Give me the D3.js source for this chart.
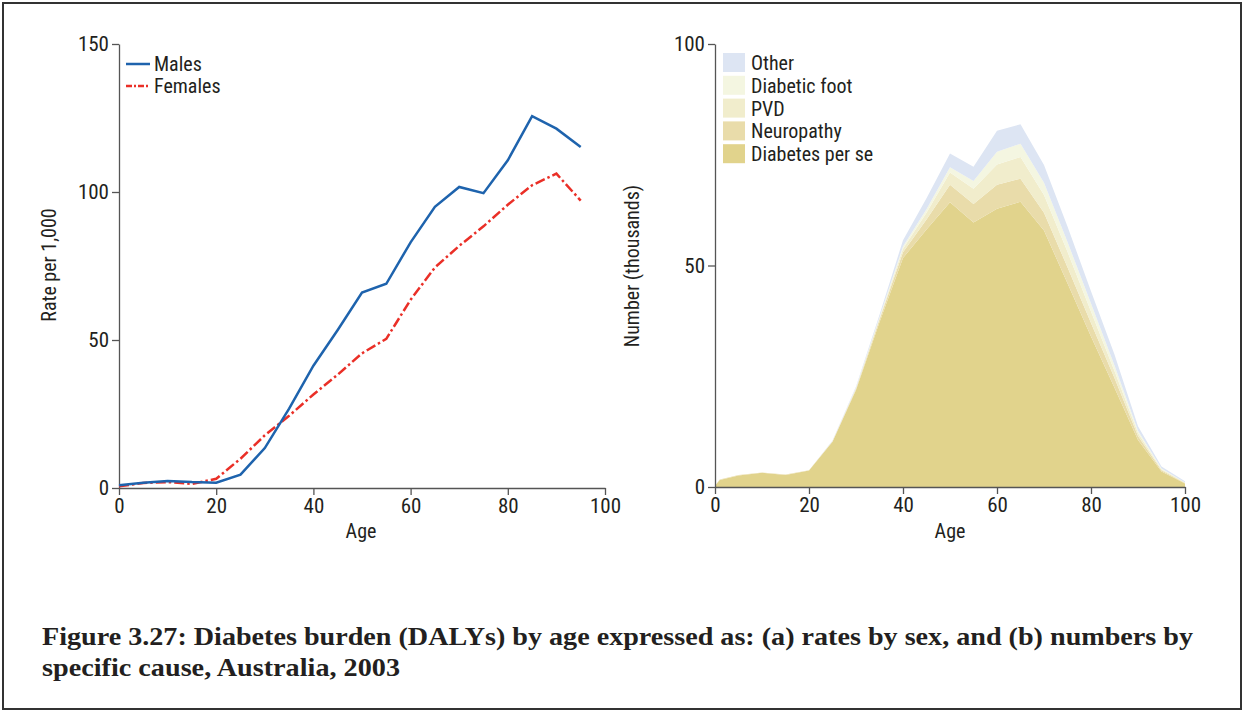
<!DOCTYPE html>
<html>
<head>
<meta charset="utf-8">
<script src="https://cdn.jsdelivr.net/npm/d3@7"></script>
<style>
  body { margin: 0; background: #fff; }
  svg text { fill: #231f20; }
  .tick text, .lab { font-family: "Liberation Sans Narrow", "Arial Narrow", "Roboto Condensed", sans-serif; font-size: 20px; }
  .tick text { font-size: 21px; }
  .caption { font-family: "Liberation Serif", "DejaVu Serif", serif; font-weight: bold; font-size: 26px; }
</style>
</head>
<body>
<div id="chart"></div>
<script>
// Data
var ageRates = [0, 5, 10, 15, 20, 25, 30, 35, 40, 45, 50, 55, 60, 65, 70, 75, 80, 85, 90, 95];
var males   = [0.9, 1.8, 2.4, 2.0, 1.8, 4.5, 13.5, 26.8, 41.3, 53.4, 66.0, 69.0, 83.0, 95.0, 101.7, 99.6, 110.7, 125.6, 121.4, 115.2];
var females = [0.6, 1.7, 2.0, 1.4, 3.1, 9.9, 17.8, 24.4, 31.6, 38.3, 45.5, 50.4, 63.6, 74.5, 81.8, 88.4, 95.7, 102.3, 106.2, 97.1];

var ageNum = [0, 1, 5, 10, 15, 20, 25, 30, 35, 40, 45, 50, 55, 60, 65, 70, 75, 80, 85, 90, 95, 100];
var diabetesPerSe = [0.3, 1.6, 2.6, 3.2, 2.7, 3.7, 10.2, 21.9, 37.2, 51.7, 58.1, 64.3, 59.7, 62.8, 64.4, 57.9, 46.0, 34.0, 22.4, 10.6, 3.5, 0.8];
var neuropathy    = [0.0, 0.1, 0.1, 0.1, 0.1, 0.1, 0.1, 0.3, 0.6, 1.3, 2.3, 3.9, 4.2, 5.4, 5.2, 4.0, 3.6, 3.0, 2.2, 0.9, 0.3, 0.1];
var pvd           = [0.0, 0.0, 0.0, 0.0, 0.0, 0.0, 0.1, 0.1, 0.3, 0.8, 1.5, 2.8, 3.4, 4.6, 4.9, 4.0, 3.5, 2.6, 1.6, 0.7, 0.2, 0.1];
var diabeticFoot  = [0.0, 0.0, 0.0, 0.0, 0.0, 0.0, 0.0, 0.1, 0.2, 0.5, 0.8, 1.2, 1.8, 2.9, 3.0, 2.8, 2.2, 1.8, 1.2, 0.5, 0.2, 0.0];
var other         = [0.0, 0.0, 0.0, 0.0, 0.0, 0.0, 0.1, 0.3, 0.6, 1.4, 2.5, 3.1, 3.2, 4.7, 4.4, 4.0, 3.5, 2.8, 2.5, 1.0, 0.4, 0.3];

var causeNames = ["Diabetes per se", "Neuropathy", "PVD", "Diabetic foot", "Other"];
var causeColors = ["#e1d38c", "#e9dcaa", "#f1edcc", "#f4f6e1", "#dde5f3"];

var rateTicks = [0, 50, 100, 150];
var numTicks = [0, 50, 100];
var ageTicks = [0, 20, 40, 60, 80, 100];

var svgWidth = 1244, svgHeight = 711;
var svg = d3.select("#chart").append("svg")
  .attr("width", svgWidth)
  .attr("height", svgHeight);

// frame
svg.append("rect")
  .attr("x", 3).attr("y", 3)
  .attr("width", 1238).attr("height", 706)
  .attr("fill", "none").attr("stroke", "#333").attr("stroke-width", 2);

function styleAxis(g) {
  g.selectAll("path.domain").attr("stroke", "#555").attr("stroke-width", 1.3);
  g.selectAll(".tick line").attr("stroke", "#555").attr("stroke-width", 1.3);
  g.selectAll(".tick text").attr("fill", "#231f20");
}

// ---------- (a) rates by sex ----------
var xA = d3.scaleLinear().domain([0, 100]).range([119, 605]);
var yA = d3.scaleLinear().domain([0, 150]).range([488, 44]);

var gA = svg.append("g");
gA.append("g")
  .attr("transform", "translate(0,488)")
  .call(d3.axisBottom(xA).tickValues(ageTicks).tickSize(7).tickSizeOuter(0).tickPadding(3))
  .call(styleAxis);
gA.append("g")
  .attr("transform", "translate(119,0)")
  .call(d3.axisLeft(yA).tickValues(rateTicks).tickSize(7).tickSizeOuter(0).tickPadding(3))
  .call(styleAxis);

var lineA = function(vals) {
  return d3.line()
    .x(function(d, i) { return xA(ageRates[i]); })
    .y(function(d) { return yA(d); })(vals);
};

gA.append("path")
  .attr("d", lineA(females))
  .attr("fill", "none").attr("stroke", "#ea2f27").attr("stroke-width", 2.5)
  .attr("stroke-dasharray", "10,3,2.5,3");
gA.append("path")
  .attr("d", lineA(males))
  .attr("fill", "none").attr("stroke", "#1e63ad").attr("stroke-width", 2.5);

// legend a
var legA = [{name: "Males", color: "#1e63ad", dash: null}, {name: "Females", color: "#ea2f27", dash: "6,2,2,2"}];
legA.forEach(function(d, i) {
  var yy = 64 + i * 22;
  gA.append("line").attr("x1", 126).attr("x2", 150).attr("y1", yy).attr("y2", yy)
    .attr("stroke", d.color).attr("stroke-width", 2.5)
    .attr("stroke-dasharray", d.dash);
  gA.append("text").attr("class", "lab").attr("x", 154).attr("y", yy + 7).text(d.name);
});

gA.append("text").attr("class", "lab")
  .attr("transform", "translate(56,265) rotate(-90)")
  .attr("text-anchor", "middle")
  .text("Rate per 1,000");
gA.append("text").attr("class", "lab")
  .attr("x", 361).attr("y", 538).attr("text-anchor", "middle").text("Age");

// ---------- (b) numbers by cause ----------
var xB = d3.scaleLinear().domain([0, 100]).range([715, 1185]);
var yB = d3.scaleLinear().domain([0, 100]).range([487, 44]);

var seriesVals = [diabetesPerSe, neuropathy, pvd, diabeticFoot, other];
var table = ageNum.map(function(a, i) {
  var row = {age: a};
  causeNames.forEach(function(n, k) { row[n] = seriesVals[k][i]; });
  return row;
});
var stacked = d3.stack().keys(causeNames)(table);

var area = d3.area()
  .x(function(d) { return xB(d.data.age); })
  .y0(function(d) { return yB(d[0]); })
  .y1(function(d) { return yB(d[1]); });

var gB = svg.append("g");
gB.selectAll("path.layer")
  .data(stacked)
  .enter().append("path")
  .attr("class", "layer")
  .attr("d", area)
  .attr("fill", function(d, i) { return causeColors[i]; });

gB.append("g")
  .attr("transform", "translate(0,487)")
  .call(d3.axisBottom(xB).tickValues(ageTicks).tickSize(7).tickSizeOuter(0).tickPadding(3))
  .call(styleAxis);
gB.append("g")
  .attr("transform", "translate(715,0)")
  .call(d3.axisLeft(yB).tickValues(numTicks).tickSize(7).tickSizeOuter(0).tickPadding(3))
  .call(styleAxis);

// legend b (top to bottom: Other ... Diabetes per se)
var legOrder = [4, 3, 2, 1, 0];
legOrder.forEach(function(k, i) {
  var yy = 53 + i * 22.8;
  gB.append("rect").attr("x", 723).attr("y", yy).attr("width", 22).attr("height", 19)
    .attr("fill", causeColors[k]);
  gB.append("text").attr("class", "lab").attr("x", 751).attr("y", yy + 17).text(causeNames[k]);
});

gB.append("text").attr("class", "lab")
  .attr("transform", "translate(639,266) rotate(-90)")
  .attr("text-anchor", "middle")
  .text("Number (thousands)");
gB.append("text").attr("class", "lab")
  .attr("x", 950).attr("y", 538).attr("text-anchor", "middle").text("Age");

// ---------- caption ----------
var captionLines = [
  "Figure 3.27: Diabetes burden (DALYs) by age expressed as: (a) rates by sex, and (b) numbers by",
  "specific cause, Australia, 2003"
];
svg.append("text").attr("class", "caption")
  .attr("x", 42).attr("y", 645)
  .attr("textLength", 1151).attr("lengthAdjust", "spacingAndGlyphs")
  .text(captionLines[0]);
svg.append("text").attr("class", "caption")
  .attr("x", 42).attr("y", 676)
  .attr("textLength", 358).attr("lengthAdjust", "spacingAndGlyphs")
  .text(captionLines[1]);
</script>
</body>
</html>
